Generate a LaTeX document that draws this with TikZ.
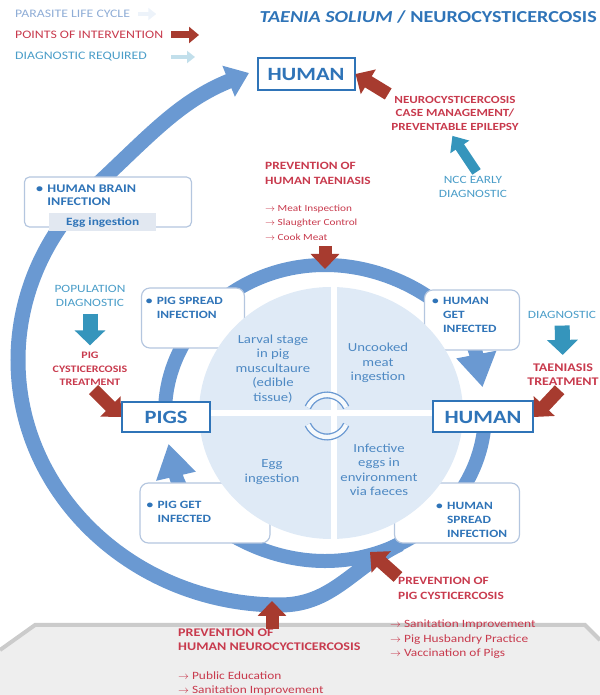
\documentclass[tikz,border=0pt]{standalone}
\usepackage{fontspec}
\setmainfont{Carlito}[FakeStretch=1.2]
\usepackage{xcolor}
\definecolor{cLoop}{HTML}{6A99D2}
\definecolor{cDisc}{HTML}{DFEAF6}
\definecolor{cHost}{HTML}{2F74B8}
\definecolor{cFrame}{HTML}{B4C6DF}
\definecolor{cFix}{HTML}{A73B2F}
\definecolor{cFixText}{HTML}{C83A4D}
\definecolor{cDiag}{HTML}{3595BC}
\definecolor{cDiagText}{HTML}{4A9DC8}
\definecolor{cLegend}{HTML}{8FADD6}
\definecolor{cBase}{HTML}{EEEEEE}
\definecolor{cBaseEdge}{HTML}{CBCBCB}
\definecolor{cTab}{HTML}{E2E8F1}
\usepackage{tikz}
\usetikzlibrary{positioning,arrows.meta}
\tikzset{
  node-host/.style={draw=cHost,line width=0.6mm,fill=white,inner sep=0pt,
    font=\fontsize{16}{16}\selectfont\bfseries,text=cHost},
  node-stage/.style={draw=cFrame,line width=0.35mm,fill=white,
    rounded corners=2.5mm,minimum height=18mm},
  node-tab/.style={fill=cTab,minimum width=32mm,minimum height=5.4mm,inner sep=0pt,
    font=\fontsize{9.5}{10}\selectfont\bfseries,text=cHost},
  text-stage/.style={font=\fontsize{9.5}{12}\selectfont\bfseries,text=cHost,
    inner sep=0pt},
  text-disc/.style={font=\fontsize{10.5}{12.4}\selectfont,text=cHost!85,
    align=center,inner sep=0pt},
  text-fix/.style={font=\fontsize{9.5}{12.5}\selectfont\bfseries,text=cFixText,
    align=center,inner sep=0pt},
  text-fixlist/.style={font=\fontsize{9.5}{12.5}\selectfont,text=cFixText,
    align=left,inner sep=0pt},
  text-diag/.style={font=\fontsize{9.5}{12}\selectfont,text=cDiagText,
    align=center,inner sep=0pt},
  text-legend/.style={font=\fontsize{9.8}{10}\selectfont,anchor=west,inner sep=0pt},
  % 循环带：内环 / 外环
  arrow-cycle/.style={-{Triangle[length=10mm,width=11.5mm]},line width=4.2mm,draw=cLoop},
  arrow-loop/.style={-{Triangle[length=6.6mm,width=9.6mm]},line width=4.5mm,draw=cLoop},
  % 干预点（红）与诊断（青）
  arrow-fix/.style={-{Triangle[length=4.5mm,width=8.4mm]},line width=3.9mm,draw=cFix},
  arrow-diag/.style={-{Triangle[length=4.5mm,width=9mm]},line width=4.5mm,draw=cDiag},
  arrow-ncc/.style={-{Triangle[length=4mm,width=6.6mm]},line width=3mm,draw=cDiag},
}
\newcommand{\stageitem}[1]{\textbullet\hspace{1.3mm}%
  \begin{tabular}[t]{@{}l@{}}#1\end{tabular}}

\begin{document}
\begin{tikzpicture}[x=0.3mm,y=0.3mm,font=\small]
  \useasboundingbox (0,0) rectangle (600,695);
  % 底部灰色平台
  \fill[cBase] (0,0) -- (0,45) -- (35,70) -- (585,70) -- (600,55) -- (600,0) -- cycle;
  \draw[cBaseEdge,line width=1.2mm] (0,45) -- (35,70) -- (585,70) -- (600,55);

  % 图例与标题
  \node[text-legend,text=cLegend]   (lg-cycle) at (15,681) {PARASITE LIFE CYCLE};
  \node[text-legend,text=cFixText]  (lg-fix)   at (15,660) {POINTS OF INTERVENTION};
  \node[text-legend,text=cDiagText] (lg-diag)  at (15,638) {DIAGNOSTIC REQUIRED};
  \coordinate (lg-col) at (171,0);
  \draw[-{Triangle[length=2.4mm,width=3.6mm]},line width=1.4mm,draw=cLoop!12]
    (lg-cycle.east) ++(8,0) -- ++(18,0);
  \draw[-{Triangle[length=3mm,width=4.8mm]},line width=2.1mm,draw=cFix]
    (lg-fix.east -| lg-col) -- ++(28,0);
  \draw[-{Triangle[length=2.4mm,width=3.6mm]},line width=1.4mm,draw=cDiag!30]
    (lg-diag.east -| lg-col) -- ++(24,0);
  \node[anchor=east,inner sep=0pt,text=cHost,
    font=\fontsize{14.3}{14}\selectfont\bfseries] (title) at (597,678)
    {\textit{TAENIA SOLIUM} / NEUROCYSTICERCOSIS};

  % 内环与外环
  \coordinate (cring) at (325,282);
  \draw[arrow-cycle] (cring) ++(178:160 and 148)
    arc[start angle=178,end angle=10,x radius=160,y radius=148];
  \draw[arrow-cycle] (cring) ++(-6:160 and 148)
    arc[start angle=-6,end angle=-168,x radius=160,y radius=148];
  \draw[arrow-loop] (400,151) to[out=206,in=0] (280,90)
    arc[start angle=-90,end angle=-225,x radius=262,y radius=245]
    to[out=43,in=-158] (249,622);

  % 四个阶段框
  \node[node-stage,minimum width=30.9mm] (pigspread)   at (193,377) {};
  \node[node-stage,minimum width=28.5mm] (humanget)    at (472,375) {};
  \node[node-stage,minimum width=39mm]   (pigget)      at (205,182) {};
  \node[node-stage,minimum width=37.5mm] (humanspread) at (457,182) {};

  % 中心圆盘
  \fill[cDisc] (331,282) ellipse[x radius=132,y radius=126];
  \draw[white,line width=1.6mm] (334,155) -- (334,409);
  \draw[white,line width=1.8mm] (198,282) -- (464,282);
  \coordinate (cicon) at (327,279);
  \draw[cLoop,line width=0.4mm,double=cDisc!30!white,double distance=1.3mm]
    (cicon) ++(156:21) arc[start angle=156,end angle=24,radius=21];
  \draw[cLoop,line width=0.4mm,double=cDisc!30!white,double distance=1.3mm]
    (cicon) ++(204:21) arc[start angle=204,end angle=336,radius=21];
  \node[text-disc] (larval) at (273,326)
    {Larval stage\\in pig\\muscultaure\\(edible\\tissue)};
  \node[text-disc] (uncooked) at (378,332) {Uncooked\\meat\\ingestion};
  \node[text-disc] (eggs) at (272,223) {Egg\\ingestion};
  \node[text-disc] (faeces) at (379,225)
    {Infective\\eggs in\\environment\\via faeces};

  % 阶段框文字
  \node[text-stage,below right=2.2mm and 1.4mm of pigspread.north west] (t-pigspread)
    {\stageitem{PIG SPREAD\\INFECTION}};
  \node[text-stage,below right=1.6mm and 2.4mm of humanget.north west] (t-humanget)
    {\stageitem{HUMAN\\GET\\INFECTED}};
  \node[text-stage,above right=5mm and 2.1mm of pigget.south west] (t-pigget)
    {\stageitem{PIG GET\\INFECTED}};
  \node[text-stage,above right=0.6mm and 12.6mm of humanspread.south west] (t-humanspread)
    {\stageitem{HUMAN\\SPREAD\\INFECTION}};

  % 宿主
  \node[node-host,minimum width=29.1mm,minimum height=9.6mm] (humantop) at (306,621) {HUMAN};
  \node[node-host,minimum width=26.4mm,minimum height=9mm] (pigs) at (166,278) {PIGS};
  \node[node-host,minimum width=30mm,minimum height=9.3mm] (humanright) at (483,278) {HUMAN};

  % 人脑感染
  \node[node-stage,minimum width=50.1mm,minimum height=15mm,rounded corners=1.5mm]
    (brain) at (108,493) {};
  \node[text-stage,font=\fontsize{10}{11}\selectfont\bfseries,
    below right=2.2mm and 3.6mm of brain.north west] (t-brain)
    {\stageitem{HUMAN BRAIN\\INFECTION}};
  \node[node-tab,above=-1.2mm of brain.south,xshift=-1.6mm] (brain-egg) {Egg ingestion};

  % 干预点与诊断标注
  \node[text-fix,font=\fontsize{9.3}{11.5}\selectfont\bfseries] (casemgmt) at (455,582)
    {NEUROCYSTICERCOSIS\\CASE MANAGEMENT/\\PREVENTABLE EPILEPSY};
  \node[text-diag] (nccdiag) at (473,508) {NCC EARLY\\DIAGNOSTIC};
  \node[text-fix,anchor=north west,align=left] (prevtae) at (265,533)
    {PREVENTION OF\\HUMAN TAENIASIS};
  \node[text-fixlist,font=\fontsize{8}{12.5}\selectfont,
    below right=6mm and 0mm of prevtae.south west] (taelist)
    {$\to$ Meat Inspection\\$\to$ Slaughter Control\\$\to$ Cook Meat};
  \node[text-diag] (popdiag) at (90,399) {POPULATION\\DIAGNOSTIC};
  \node[text-fix,font=\fontsize{8.5}{11.5}\selectfont\bfseries] (pigtreat) at (90,326)
    {PIG\\CYSTICERCOSIS\\TREATMENT};
  \node[text-diag] (taediag) at (562,380) {DIAGNOSTIC};
  \node[text-fix,font=\fontsize{10}{12}\selectfont\bfseries] (taetreat) at (563,320)
    {TAENIASIS\\TREATMENT};
  \node[text-fix,anchor=north west,align=left] (prevpig) at (398,118)
    {PREVENTION OF\\PIG CYSTICERCOSIS};
  \node[text-fixlist,below right=6mm and -2.4mm of prevpig.south west] (piglist)
    {$\to$ Sanitation Improvement\\$\to$ Pig Husbandry Practice\\$\to$ Vaccination of Pigs};
  \node[text-fix,font=\fontsize{10}{12}\selectfont\bfseries,
    anchor=north west,align=left] (prevncc) at (178,66)
    {PREVENTION OF\\HUMAN NEUROCYCTICERCOSIS};
  \node[text-fixlist,below right=6mm and 0mm of prevncc.south west] (ncclist)
    {$\to$ Public Education\\$\to$ Sanitation Improvement};

  % 箭头
  \coordinate (ringtop) at (325,426);
  \coordinate (loopfoot) at (272,94);
  \coordinate (loopsplit) at (370,143);
  \draw[arrow-fix,shorten <=1mm] (casemgmt.north west) -- (humantop.east);
  \draw[arrow-ncc,shorten <=1.5mm,shorten >=2mm] (nccdiag.60) -- (casemgmt.250);
  \draw[arrow-fix,shorten <=1.5mm] (taelist.south -| ringtop) -- (ringtop);
  \draw[arrow-diag,shorten <=2mm,shorten >=2mm] (popdiag) -- (pigtreat);
  \draw[arrow-fix,shorten <=1.5mm] (pigtreat.south) -- (pigs.west);
  \draw[arrow-diag,shorten <=2mm,shorten >=2.7mm] (taediag) -- (taetreat);
  \draw[arrow-fix,shorten <=1.5mm] (taetreat.south) -- (humanright.east);
  \draw[arrow-fix] (prevncc.north -| loopfoot) -- (loopfoot);
  \draw[arrow-fix] (prevpig.north west) -- (loopsplit);
\end{tikzpicture}
\end{document}
